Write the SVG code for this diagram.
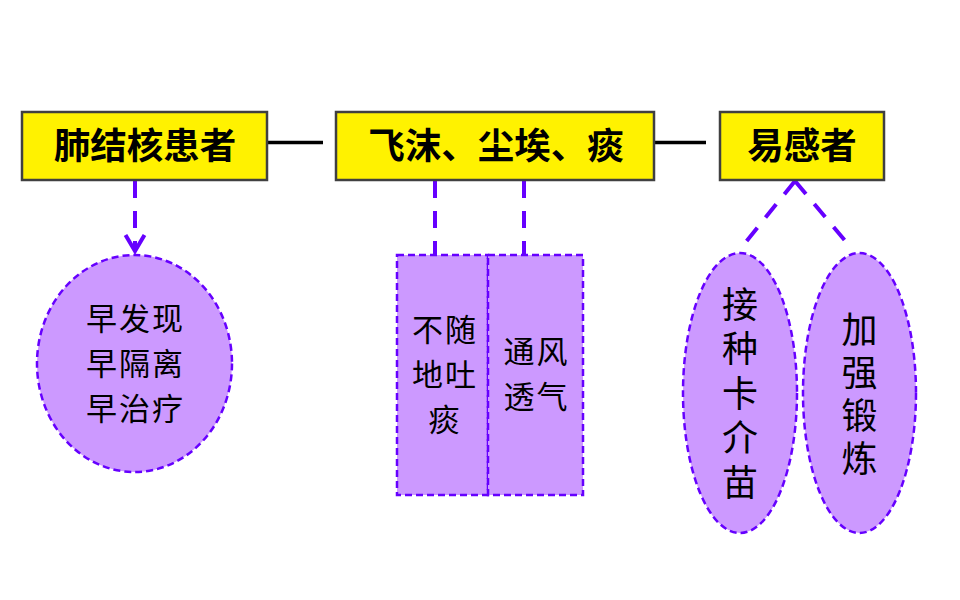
<svg xmlns="http://www.w3.org/2000/svg" width="960" height="600" viewBox="0 0 960 600">
<style>
.box{fill:#FFF200;stroke:#404040;stroke-width:2.5}
.btxt{font-family:"Noto Sans CJK SC","Liberation Sans",sans-serif;font-weight:bold;font-size:36.5px;fill:#000;text-anchor:middle}
.shape{fill:#CC99FF;stroke:#6600FF;stroke-width:2.5;stroke-dasharray:7 4}
.stxt{font-family:"Noto Sans CJK SC","Liberation Sans",sans-serif;font-size:31px;letter-spacing:2px;fill:#000;text-anchor:middle}
.vtxt{font-family:"Noto Sans CJK SC","Liberation Sans",sans-serif;font-size:36px;fill:#000;writing-mode:vertical-rl;text-anchor:start}
.solid{stroke:#000;stroke-width:3.5;fill:none}
.dash{stroke:#6600FF;stroke-width:4;fill:none;stroke-dasharray:17 13}
</style>
<defs>
<marker id="vhead" markerUnits="userSpaceOnUse" viewBox="0 0 24 24" markerWidth="24" markerHeight="24" refX="20" refY="12" orient="auto">
<path d="M4,2.5 L20,12 L4,21.5" fill="none" stroke="#6600FF" stroke-width="4" stroke-dasharray="none"/>
</marker>
</defs>
<rect width="960" height="600" fill="#FFFFFF"/>
<g id="connectors">
<line class="solid" x1="255" y1="142.5" x2="323" y2="142.5"/>
<line class="solid" x1="638" y1="142.5" x2="706" y2="142.5"/>
<line class="dash" x1="135" y1="181" x2="135" y2="251" marker-end="url(#vhead)"/>
<line class="dash" x1="435" y1="181" x2="435" y2="255"/>
<line class="dash" x1="524" y1="181" x2="524" y2="255"/>
<line class="dash" x1="795" y1="181" x2="745" y2="243"/>
<line class="dash" x1="795" y1="181" x2="847" y2="243"/>
</g>
<g id="node-patient">
<rect class="box" x="22" y="112" width="245" height="68"/>
<text class="btxt" x="145" y="159">肺结核患者</text>
</g>
<g id="node-route">
<rect class="box" x="336" y="112" width="318" height="68"/>
<text class="btxt" x="496" y="159">飞沫、尘埃、痰</text>
</g>
<g id="node-susceptible">
<rect class="box" x="720" y="112" width="164" height="68"/>
<text class="btxt" x="802" y="159">易感者</text>
</g>
<g id="node-early">
<ellipse class="shape" cx="134.5" cy="363.5" rx="97.5" ry="108.5"/>
<text class="stxt"><tspan x="135.5" y="330">早发现</tspan><tspan x="135.5" y="375">早隔离</tspan><tspan x="135.5" y="420">早治疗</tspan></text>
</g>
<g id="node-nospit">
<rect class="shape" x="397" y="255" width="91" height="240"/>
<text class="stxt"><tspan x="445" y="340.5">不随</tspan><tspan x="445" y="385.5">地吐</tspan><tspan x="445" y="430.5">痰</tspan></text>
</g>
<g id="node-ventilate">
<rect class="shape" x="488" y="255" width="95" height="240"/>
<text class="stxt"><tspan x="536.5" y="363">通风</tspan><tspan x="536.5" y="408">透气</tspan></text>
</g>
<g id="node-vaccine">
<ellipse class="shape" cx="740" cy="393" rx="57" ry="140"/>
<text class="vtxt" x="740" y="286" letter-spacing="8.5">接种卡介苗</text>
</g>
<g id="node-exercise">
<ellipse class="shape" cx="859.5" cy="393" rx="56.5" ry="140"/>
<text class="vtxt" x="859.5" y="311" letter-spacing="7">加强锻炼</text>
</g>
</svg>
